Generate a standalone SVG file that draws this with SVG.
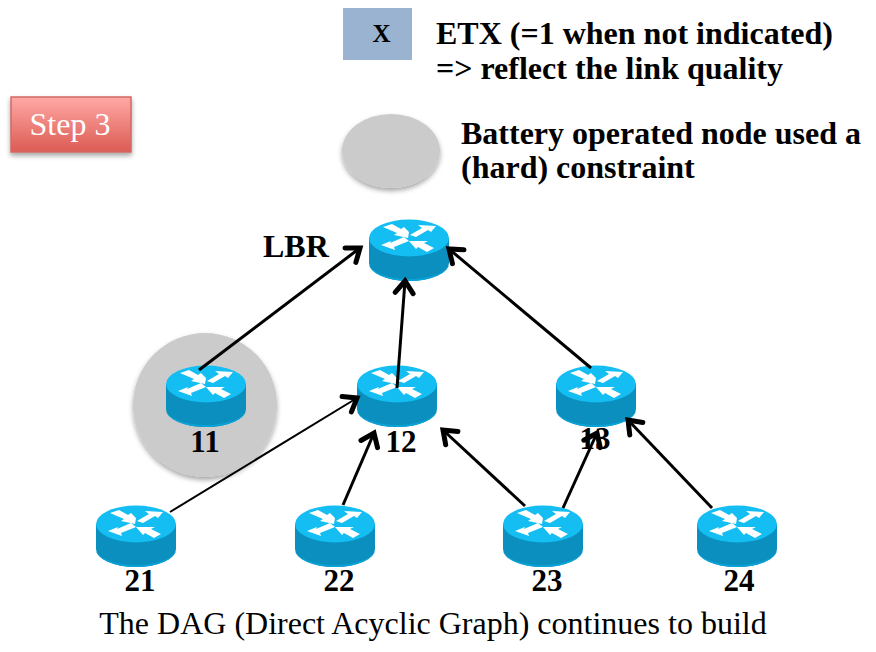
<svg xmlns="http://www.w3.org/2000/svg" width="876" height="652" viewBox="0 0 876 652">
<style>
text{font-family:"Liberation Serif","Times New Roman",serif;fill:#000}
.b{font-weight:bold}
.t{font-size:32px;font-weight:bold}
.n{font-size:31px;font-weight:bold;text-anchor:middle}
.c line{stroke:#000;stroke-width:3;marker-end:url(#arr)}
</style>
<defs>
<marker id="arr" viewBox="-14 -11 16 22" refX="0" refY="0" markerWidth="16" markerHeight="22" markerUnits="userSpaceOnUse" orient="auto" overflow="visible">
<path d="M-12 -9L0 0L-12 9" fill="none" stroke="#000" stroke-width="5" stroke-linecap="round" stroke-linejoin="miter"/>
</marker>
<linearGradient id="red" x1="0" y1="0" x2="0" y2="1"><stop offset="0" stop-color="#ffa9a6"/><stop offset="1" stop-color="#dc5b53"/></linearGradient>
<filter id="sh" x="-20%" y="-20%" width="140%" height="150%"><feDropShadow dx="0" dy="3" stdDeviation="2.500" flood-color="#000" flood-opacity=".35"/></filter>
<g id="router">
<path d="M-40 0V25A40 18 0 0 0 40 25V0Z" fill="#0a8fbe"/>
<path d="M-40 25A40 18 0 0 0 40 25A40 16 0 0 1 -40 25Z" fill="#0aa3d6"/>
<ellipse cx="0" cy="0" rx="40" ry="18.500" fill="#14bdf2"/>
<g fill="#fff">
<path d="M-26 -11L-17 -14L-8 -9L-5 -11L0 -6L-1 0L-15 -3L-12 -5Z"/>
<path d="M27 -12L9 -13L13 -10L1 -3L7 -1L19 -8L22 -6Z"/>
<path d="M-28 7L-14 12L-15 9L0 3L-5 -1L-19 5L-18 3Z"/>
<path d="M0 3L19 3L15 5L25 10L18 14L9 9L7 11Z"/>
</g>
</g>
</defs>
<g id="legend-etx"><rect x="343" y="8" width="69" height="52" fill="#9ab3d0"/><text x="381.500" y="42" font-size="25" class="b" text-anchor="middle">X</text></g>
<text class="t" x="436" y="44">ETX (=1 when not indicated)</text>
<text class="t" x="436" y="79">=&gt; reflect the link quality</text>
<g id="step3"><rect x="11" y="97" width="120" height="55" fill="url(#red)" stroke="#d06a64" stroke-width="1.500" filter="url(#sh)"/><text x="70" y="135" font-size="32" text-anchor="middle" style="fill:#fff">Step 3</text></g>
<g id="legend-battery"><ellipse cx="391" cy="151" rx="49" ry="37" fill="#cbcbcb" filter="url(#sh)"/></g>
<text class="t" x="461" y="144">Battery operated node used a</text>
<text class="t" x="461" y="178">(hard) constraint</text>
<g id="halo"><circle cx="205" cy="405" r="72" fill="#cbcbcb" filter="url(#sh)"/></g>
<g id="node-lbr"><use href="#router" x="409" y="238"/><text class="t" x="263" y="257">LBR</text></g>
<g id="node-11"><use href="#router" x="206" y="384"/><text class="n" x="205" y="452">11</text></g>
<g id="node-12"><use href="#router" x="397" y="384"/><text class="n" x="401" y="452">12</text></g>
<g id="node-13"><use href="#router" x="596" y="384"/><text class="n" x="595" y="449">13</text></g>
<g id="node-21"><use href="#router" x="136" y="524"/><text class="n" x="140" y="591">21</text></g>
<g id="node-22"><use href="#router" x="335" y="524"/><text class="n" x="339" y="591">22</text></g>
<g id="node-23"><use href="#router" x="543" y="524"/><text class="n" x="547" y="591">23</text></g>
<g id="node-24"><use href="#router" x="737" y="524"/><text class="n" x="739" y="591">24</text></g>
<g id="connectors" class="c">
<line x1="199" y1="370" x2="360" y2="248"/>
<line x1="397" y1="388" x2="405" y2="281"/>
<line x1="591" y1="368" x2="449" y2="249"/>
<line x1="170" y1="512" x2="357" y2="398" style="stroke-width:2"/>
<line x1="343" y1="505" x2="374" y2="433"/>
<line x1="525" y1="506" x2="443" y2="430"/>
<line x1="563" y1="508" x2="597" y2="433"/>
<line x1="712" y1="508" x2="628" y2="420"/>
</g>
<text x="433" y="634" font-size="32" text-anchor="middle">The DAG (Direct Acyclic Graph) continues to build</text>
</svg>
